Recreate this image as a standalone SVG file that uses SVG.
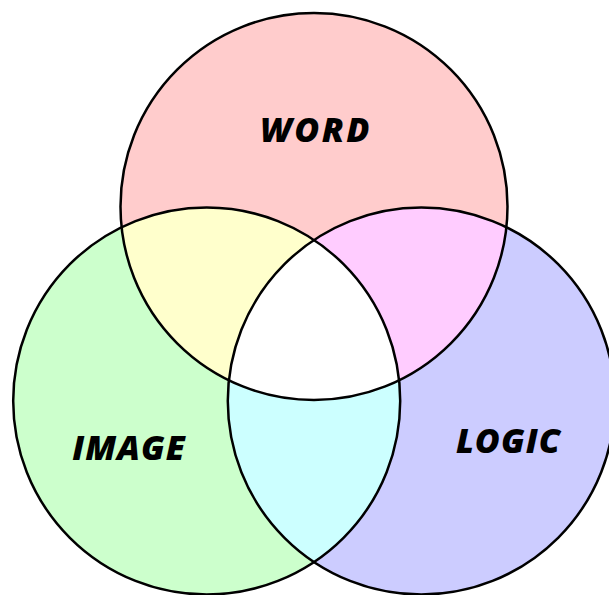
<svg xmlns="http://www.w3.org/2000/svg" width="609" height="595" viewBox="0 0 609 595">
  <style>
    .lbl { font-family: "Open Sans", "DejaVu Sans", sans-serif; font-weight: 800; font-style: italic; font-size: 34px; letter-spacing: 1px; fill: #000; text-anchor: middle; }
    .ring { fill: none; stroke: #000; stroke-width: 2.5; }
  </style>
  <defs>
    <circle id="cW" cx="314" cy="206.5" r="193.5"/>
    <circle id="cI" cx="206.7" cy="401" r="193.5"/>
    <circle id="cL" cx="421.3" cy="401" r="193.5"/>
    <clipPath id="clipW"><use href="#cW"/></clipPath>
    <clipPath id="clipI"><use href="#cI"/></clipPath>
    <clipPath id="clipL"><use href="#cL"/></clipPath>
  </defs>
  <rect width="609" height="595" fill="#fff"/>
  <g id="fills">
    <use href="#cW" fill="#ffcccc"/>
    <use href="#cI" fill="#ccffcc"/>
    <use href="#cL" fill="#ccccff"/>
    <use href="#cW" fill="#ffffcc" clip-path="url(#clipI)"/>
    <use href="#cW" fill="#ffccff" clip-path="url(#clipL)"/>
    <use href="#cI" fill="#ccffff" clip-path="url(#clipL)"/>
    <g clip-path="url(#clipI)"><use href="#cW" fill="#ffffff" clip-path="url(#clipL)"/></g>
  </g>
  <g id="word">
    <use href="#cW" class="ring"/>
    <text class="lbl" x="316" y="142" style="letter-spacing:2.5px">WORD</text>
  </g>
  <g id="image">
    <use href="#cI" class="ring"/>
    <text class="lbl" x="129" y="460">IMAGE</text>
  </g>
  <g id="logic">
    <use href="#cL" class="ring"/>
    <text class="lbl" x="508.5" y="453">LOGIC</text>
  </g>
</svg>
